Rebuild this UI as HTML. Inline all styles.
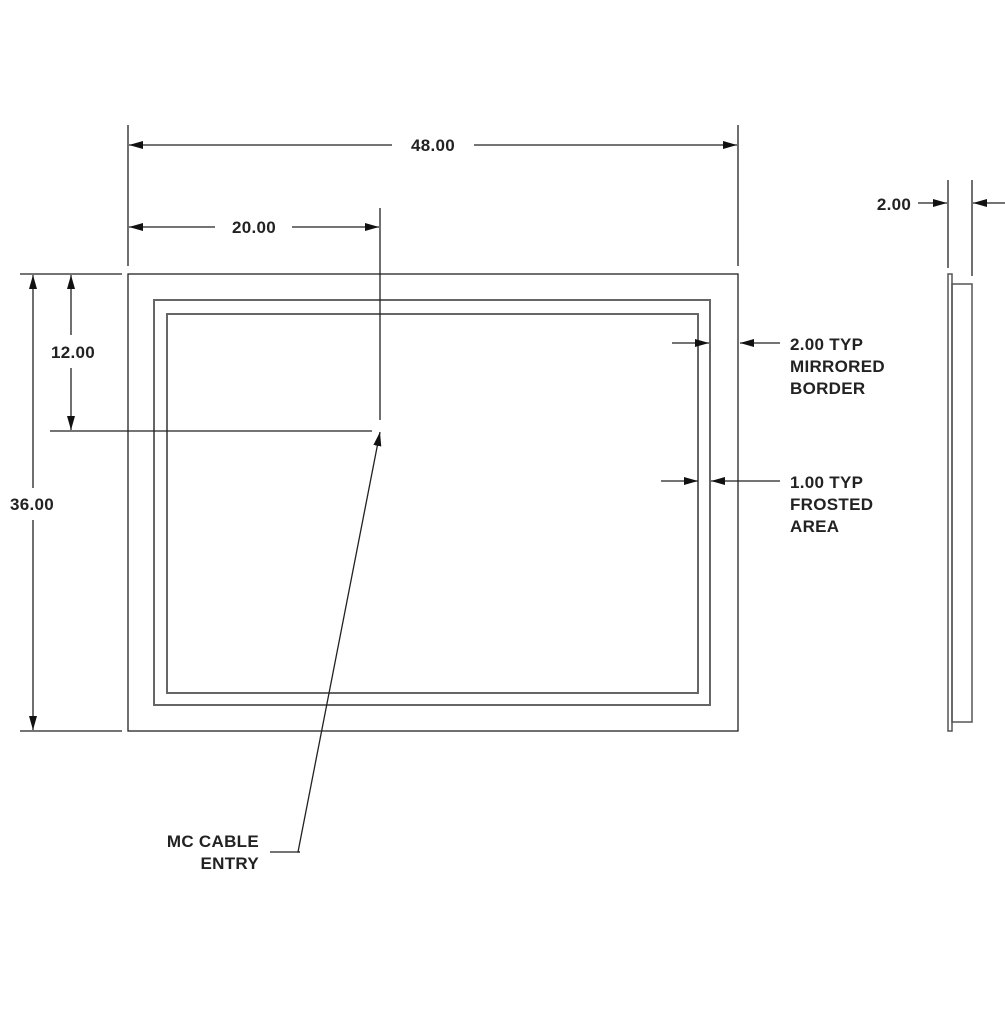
<!DOCTYPE html>
<html><head><style>body{margin:0;background:#fff}text{font-family:"Liberation Sans",sans-serif;font-weight:bold;font-size:17px;fill:#222;letter-spacing:0.3px}</style></head><body>
<svg width="1005" height="1005" viewBox="0 0 1005 1005" xmlns="http://www.w3.org/2000/svg">
<defs><marker id="a" markerWidth="14" markerHeight="8" refX="14" refY="4" orient="auto" markerUnits="userSpaceOnUse"><path d="M0,0L14,4L0,8z" fill="#111"/></marker></defs>
<g fill="none" stroke="#222" stroke-width="1.3">
<rect x="128" y="274" width="610" height="457"/>
<rect x="154" y="300" width="556" height="405" stroke="#666" stroke-width="2"/>
<rect x="167" y="314" width="531" height="379" stroke="#666" stroke-width="2"/>
<line x1="128" y1="125" x2="128" y2="266"/><line x1="738" y1="125" x2="738" y2="266"/>
<line x1="392" y1="145" x2="129" y2="145" marker-end="url(#a)"/><line x1="474" y1="145" x2="737" y2="145" marker-end="url(#a)"/>
<line x1="380" y1="208" x2="380" y2="420"/>
<line x1="215" y1="227" x2="129" y2="227" marker-end="url(#a)"/><line x1="292" y1="227" x2="379" y2="227" marker-end="url(#a)"/>
<line x1="20" y1="274" x2="122" y2="274"/><line x1="20" y1="731" x2="122" y2="731"/>
<line x1="33" y1="488" x2="33" y2="275" marker-end="url(#a)"/><line x1="33" y1="520" x2="33" y2="730" marker-end="url(#a)"/>
<line x1="50" y1="431" x2="372" y2="431"/>
<line x1="71" y1="335" x2="71" y2="275" marker-end="url(#a)"/><line x1="71" y1="368" x2="71" y2="430" marker-end="url(#a)"/>
<polyline points="300,852 298,852 380,432" marker-end="url(#a)"/>
<line x1="300" y1="852" x2="270" y2="852"/>
<line x1="672" y1="343" x2="709" y2="343" marker-end="url(#a)"/>
<line x1="780" y1="343" x2="740" y2="343" marker-end="url(#a)"/>
<line x1="661" y1="481" x2="698" y2="481" marker-end="url(#a)"/>
<line x1="780" y1="481" x2="711" y2="481" marker-end="url(#a)"/>
<line x1="948" y1="180" x2="948" y2="268"/><line x1="972" y1="180" x2="972" y2="276"/>
<line x1="918" y1="203" x2="947" y2="203" marker-end="url(#a)"/><line x1="1005" y1="203" x2="973" y2="203" marker-end="url(#a)"/>
<rect x="948" y="274" width="4" height="457" stroke="#555" stroke-width="1.5"/>
<rect x="952" y="284" width="20" height="438" stroke="#555" stroke-width="1.5"/>
</g>
<text x="433" y="151" text-anchor="middle">48.00</text>
<text x="254" y="233" text-anchor="middle">20.00</text>
<text x="73" y="358" text-anchor="middle">12.00</text>
<text x="32" y="510" text-anchor="middle">36.00</text>
<text x="894" y="210" text-anchor="middle">2.00</text>
<text x="790" y="350">2.00 TYP</text><text x="790" y="372">MIRRORED</text><text x="790" y="394">BORDER</text>
<text x="790" y="488">1.00 TYP</text><text x="790" y="510">FROSTED</text><text x="790" y="532">AREA</text>
<text x="259" y="847" text-anchor="end">MC CABLE</text><text x="259" y="869" text-anchor="end">ENTRY</text>
</svg>
</body></html>
